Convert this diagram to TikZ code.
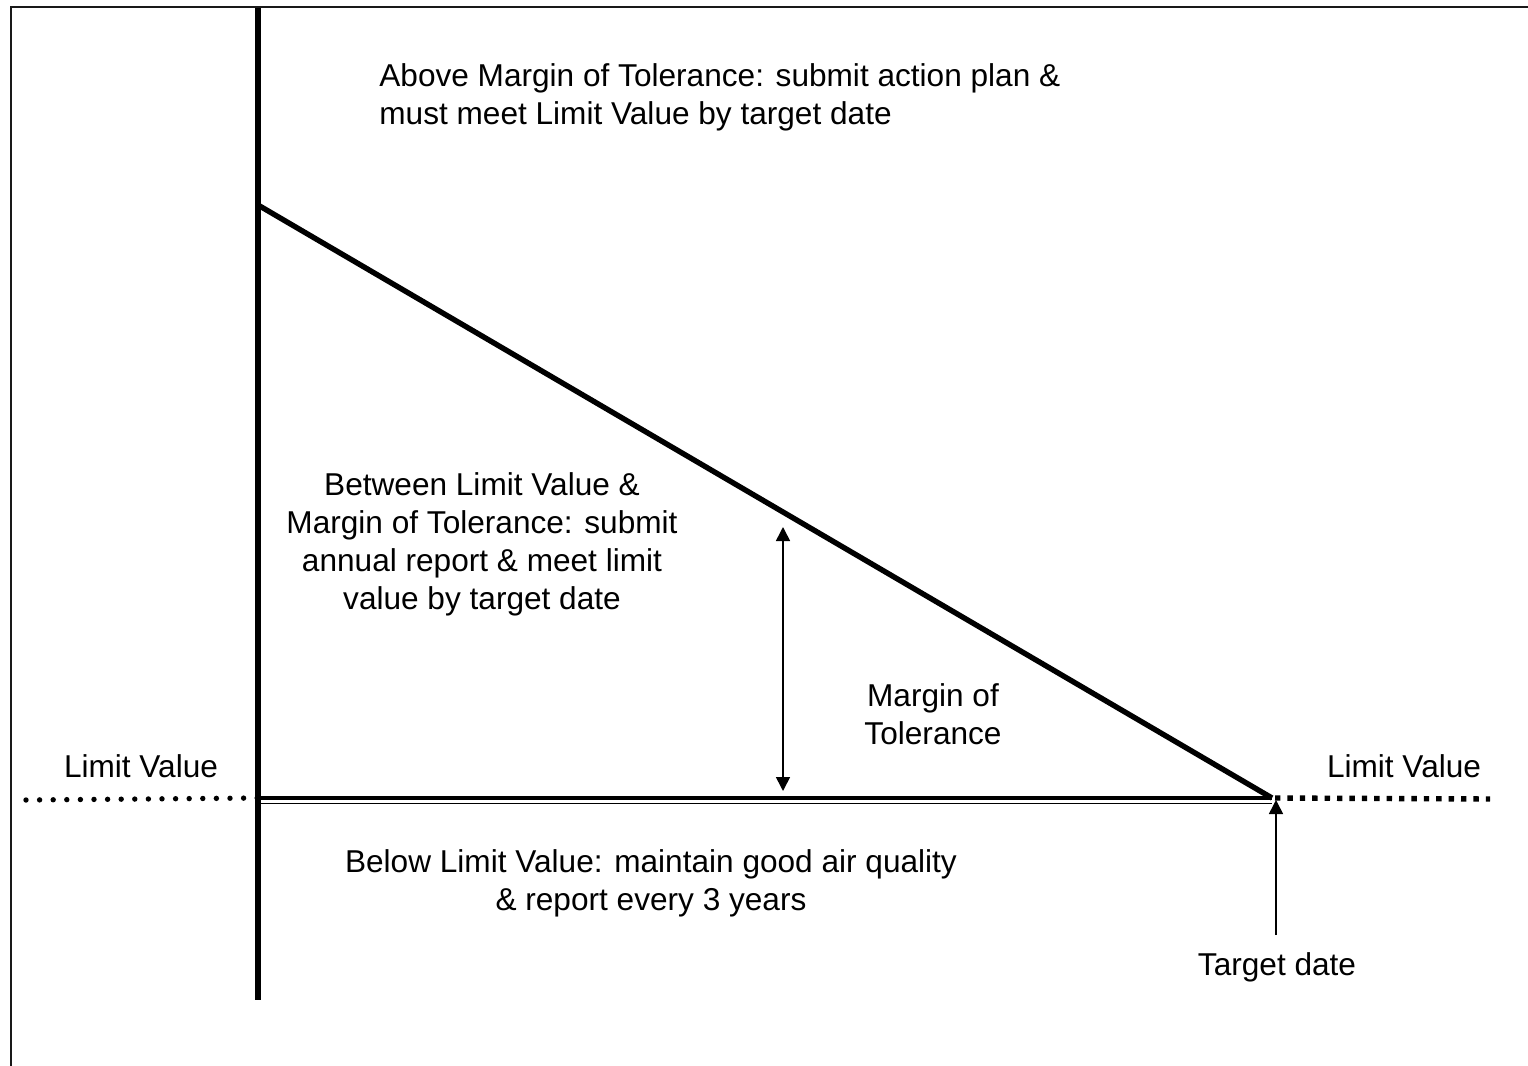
\documentclass[tikz,border=0pt]{standalone}
\usepackage{fontspec}
\setmainfont{Liberation Sans}
\usetikzlibrary{arrows.meta}

\tikzset{
  label text/.style={font=\fontsize{15.8}{19}\selectfont, inner sep=0pt},
  tip/.style={-{Triangle[length=7pt,width=7pt]}},
  tips both/.style={{Triangle[length=7pt,width=7pt]}-{Triangle[length=7pt,width=7pt]}},
}

\begin{document}
\begin{tikzpicture}[x=0.5pt,y=-0.5pt]
  \useasboundingbox (0,0) rectangle (1528,1066);
  % frame
  \draw[black!90,line width=1.4pt] (11,1066) -- (11,7) -- (1528,7);
  % points
  \coordinate (top) at (258,8);
  \coordinate (bot) at (258,1000);
  \coordinate (mot) at (258,205);
  \coordinate (orig) at (258,798);
  \coordinate (tgt) at (1272,798);
  \coordinate (lvl) at (26,800);
  \coordinate (lvr) at (1490,799);
  \coordinate (mtop) at (783,527);
  \coordinate (mbot) at (783,791);
  \coordinate (tgtfoot) at (1276,935);
  \coordinate (tgthead) at (1276,800);
  % axis and lines
  \draw[line width=3.2pt] (top) -- (bot);
  \draw[line width=2.7pt] (mot) -- (tgt);
  \draw[line width=2.3pt] (orig) -- (tgt);
  \draw[line width=0.6pt] ([yshift=-2.9pt]orig) -- ([yshift=-2.9pt]tgt);
  \draw[line width=2.7pt,line cap=round,dash pattern=on 0pt off 6.8pt] (lvl) -- (orig);
  \draw[line width=2.7pt,dash pattern=on 2.7pt off 3.5pt] ([xshift=1.5pt]tgt) -- (lvr);
  % arrows
  \draw[tips both,line width=0.8pt] (mtop) -- (mbot);
  \draw[tip,line width=0.8pt] (tgtfoot) -- (tgthead);
  % texts
  \node[label text,align=left,anchor=west] (above) at (379,97)
    {Above Margin of Tolerance: submit action plan \&\\must meet Limit Value by target date};
  \node[label text,align=center] (between) at (482,544)
    {Between Limit Value \&\\Margin of Tolerance: submit\\annual report \& meet limit\\value by target date};
  \node[label text,align=center] (margin) at (933,714) {Margin of\\Tolerance};
  \node[label text] (lvleft) at (141,766) {Limit Value};
  \node[label text] (lvright) at (1404,766) {Limit Value};
  \node[label text,align=center] (below) at (651,883)
    {Below Limit Value: maintain good air quality\\\& report every 3 years};
  \node[label text] (tdate) at (1277,967) {Target date};
\end{tikzpicture}
\end{document}
